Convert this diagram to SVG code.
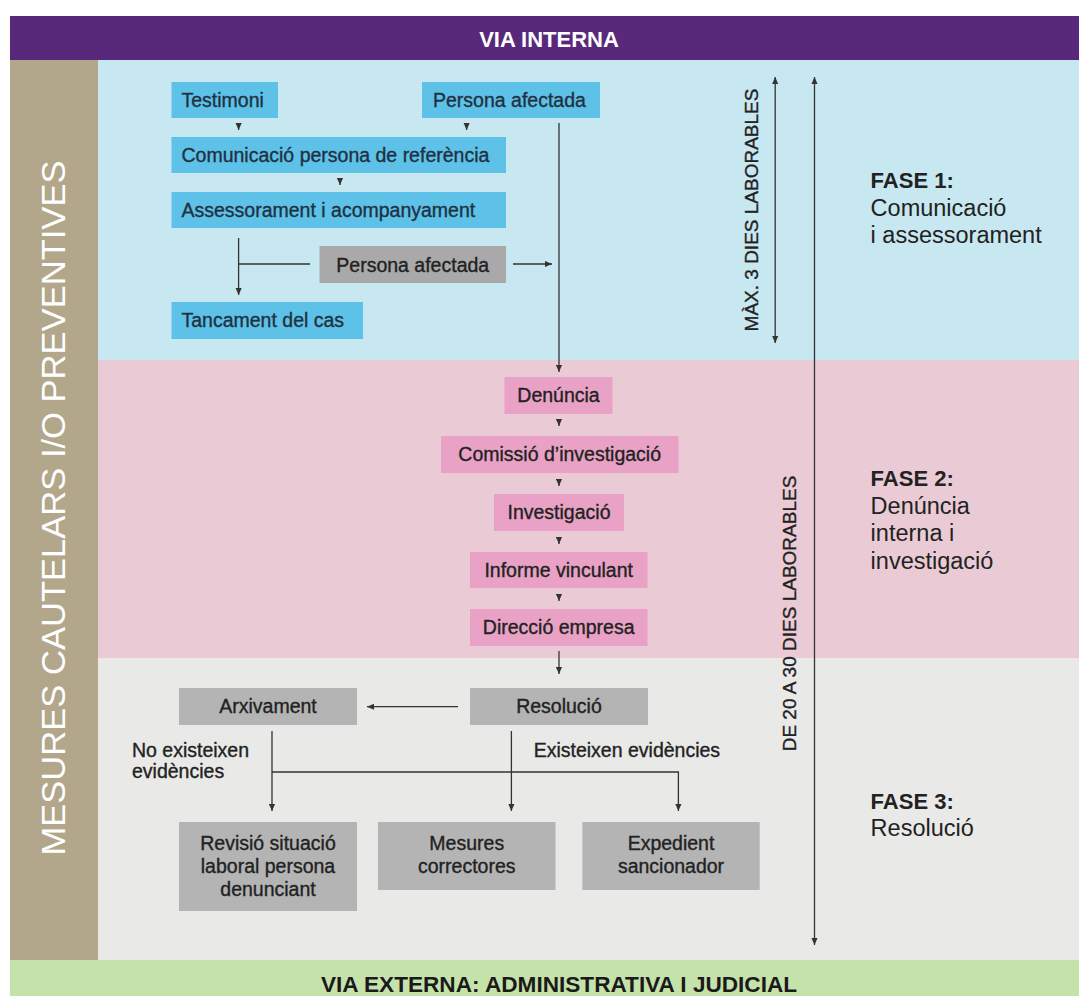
<svg xmlns="http://www.w3.org/2000/svg" width="1079" height="996" viewBox="0 0 1079 996">
<defs>
<style>
text{font-family:"Liberation Sans",Arial,Helvetica,sans-serif}
.lbl{font-size:19.5px;fill:#222;stroke:#222;stroke-width:0.35px}
.bl{fill:#1e3142;stroke:#1e3142}
.ctr{text-anchor:middle}
.nb{fill:#5ec1e7}
.np{fill:#e9a2c6}
.ng{fill:#b4b4b4}
.ngd{fill:#a9a9a9}
.ln{fill:none;stroke:#333;stroke-width:1.3}
.arr{marker-end:url(#ah)}
.dbl{marker-start:url(#ah);marker-end:url(#ah)}
.fh{font-size:22px;font-weight:bold;fill:#222}
.fb{font-size:23.5px;fill:#222}
.rot{font-size:19px;fill:#222;stroke:#222;stroke-width:0.35px;text-anchor:middle}
.band{font-size:22px;font-weight:bold;text-anchor:middle}
</style>
<marker id="ah" viewBox="0 0 8 8" refX="8" refY="4" markerWidth="7" markerHeight="7" markerUnits="userSpaceOnUse" orient="auto-start-reverse">
<path d="M0,0.5 L8,4 L0,7.5 z" fill="#333"/>
</marker>
</defs>

<g id="background">
<rect x="0" y="0" width="1079" height="996" fill="#ffffff"/>
<rect x="10" y="16" width="1069" height="44" fill="#58297a"/>
<rect x="10" y="60" width="88" height="900" fill="#b3a78b"/>
<rect x="98" y="60" width="981" height="300" fill="#c7e7f1"/>
<rect x="98" y="360" width="981" height="298" fill="#eacbd5"/>
<rect x="98" y="658" width="981" height="302" fill="#e9e9e7"/>
<rect x="10" y="960" width="1069" height="36" fill="#c5e2aa"/>
<text class="band" x="549" y="46.5" fill="#ffffff">VIA INTERNA</text>
<text class="band" x="559" y="992" fill="#1a1a1a" style="font-size:22.6px">VIA EXTERNA: ADMINISTRATIVA I JUDICIAL</text>
<text transform="translate(65,508) rotate(-90)" text-anchor="middle" font-size="33" fill="#ffffff" textLength="695" lengthAdjust="spacingAndGlyphs">MESURES CAUTELARS I/O PREVENTIVES</text>
</g>

<g id="connectors">
<path class="ln arr" d="M238.6,124 V130"/>
<path class="ln arr" d="M466.6,124 V130"/>
<path class="ln arr" d="M340,179 V185"/>
<path class="ln arr" d="M559,123 V372"/>
<path class="ln arr" d="M238.6,238 V295"/>
<path class="ln" d="M238.6,264 H310"/>
<path class="ln arr" d="M513,264 H552"/>
<path class="ln arr" d="M559,420 V426"/>
<path class="ln arr" d="M559,480 V486"/>
<path class="ln arr" d="M559,538 V544"/>
<path class="ln arr" d="M559,595 V601"/>
<path class="ln arr" d="M559,651 V674"/>
<path class="ln arr" d="M458,706.7 H367"/>
<path class="ln arr" d="M272,731 V811"/>
<path class="ln arr" d="M272,772 H678.4 V811"/>
<path class="ln arr" d="M511.4,731 V811"/>
<path class="ln dbl" d="M775.2,77 V343"/>
<path class="ln dbl" d="M814.5,77 V945"/>
</g>

<g id="n-testimoni"><rect class="nb" x="171.5" y="82" width="106.5" height="36"/><text class="lbl bl" x="181.5" y="107">Testimoni</text></g>
<g id="n-persona-afectada"><rect class="nb" x="422" y="82" width="178" height="36"/><text class="lbl bl" x="433" y="107">Persona afectada</text></g>
<g id="n-comunicacio"><rect class="nb" x="171.5" y="137" width="334.5" height="36"/><text class="lbl bl" x="181.5" y="162">Comunicació persona de referència</text></g>
<g id="n-assessorament"><rect class="nb" x="171.5" y="192" width="334.5" height="36"/><text class="lbl bl" x="181.5" y="217">Assessorament i acompanyament</text></g>
<g id="n-persona-afectada-2"><rect class="ngd" x="319.5" y="246" width="186.5" height="37"/><text class="lbl ctr" x="412.75" y="271.5">Persona afectada</text></g>
<g id="n-tancament"><rect class="nb" x="171.5" y="302" width="191.5" height="37"/><text class="lbl bl" x="181.5" y="327">Tancament del cas</text></g>

<g id="n-denuncia"><rect class="np" x="504.5" y="377" width="108" height="37"/><text class="lbl ctr" x="558.5" y="402">Denúncia</text></g>
<g id="n-comissio"><rect class="np" x="441" y="436" width="237.5" height="37"/><text class="lbl ctr" x="559.7" y="461">Comissió d’investigació</text></g>
<g id="n-investigacio"><rect class="np" x="494" y="494" width="130" height="37"/><text class="lbl ctr" x="559" y="519">Investigació</text></g>
<g id="n-informe"><rect class="np" x="470" y="552" width="177.5" height="36"/><text class="lbl ctr" x="558.7" y="577">Informe vinculant</text></g>
<g id="n-direccio"><rect class="np" x="470" y="609" width="177.5" height="37"/><text class="lbl ctr" x="558.7" y="634">Direcció empresa</text></g>

<g id="n-resolucio"><rect class="ng" x="470" y="688" width="178" height="37"/><text class="lbl ctr" x="559" y="713">Resolució</text></g>
<g id="n-arxivament"><rect class="ng" x="179" y="688" width="178" height="37"/><text class="lbl ctr" x="268" y="713">Arxivament</text></g>
<g id="n-revisio"><rect class="ng" x="179" y="822" width="178" height="89"/><text class="lbl ctr" x="268" y="850">Revisió situació<tspan x="268" y="873">laboral persona</tspan><tspan x="268" y="896">denunciant</tspan></text></g>
<g id="n-mesures"><rect class="ng" x="378" y="822" width="177.5" height="68"/><text class="lbl ctr" x="466.75" y="849.5">Mesures<tspan x="466.75" y="872.5">correctores</tspan></text></g>
<g id="n-expedient"><rect class="ng" x="582.4" y="822" width="177.3" height="68"/><text class="lbl ctr" x="671" y="849.5">Expedient<tspan x="671" y="872.5">sancionador</tspan></text></g>

<g id="labels">
<text class="lbl" x="132" y="756.7">No existeixen<tspan x="132" y="778.3">evidències</tspan></text>
<text class="lbl" x="533.7" y="756.7">Existeixen evidències</text>
<text class="rot" transform="translate(757.5,210) rotate(-90)">MÀX. 3 DIES LABORABLES</text>
<text class="rot" transform="translate(796,613.5) rotate(-90)">DE 20 A 30 DIES LABORABLES</text>
<text class="fh" x="870.6" y="188">FASE 1:</text>
<text class="fb" x="870.6" y="215.5">Comunicació</text>
<text class="fb" x="870.6" y="243">i assessorament</text>
<text class="fh" x="870.6" y="486">FASE 2:</text>
<text class="fb" x="870.6" y="513.5">Denúncia</text>
<text class="fb" x="870.6" y="541">interna i</text>
<text class="fb" x="870.6" y="568.5">investigació</text>
<text class="fh" x="870.6" y="808.5">FASE 3:</text>
<text class="fb" x="870.6" y="836">Resolució</text>
</g>
</svg>
